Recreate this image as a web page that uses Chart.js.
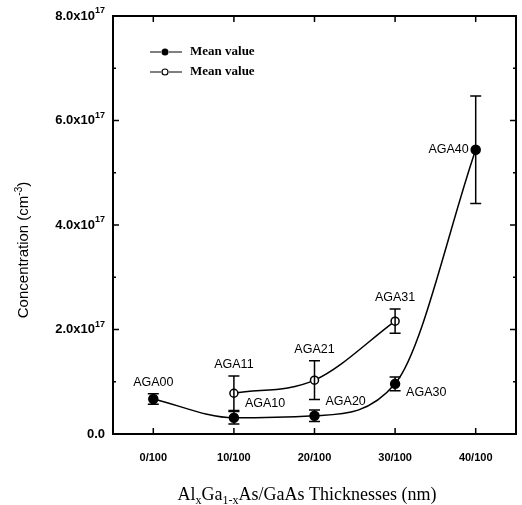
<!DOCTYPE html>
<html>
<head>
<meta charset="utf-8">
<script src="https://cdn.jsdelivr.net/npm/chart.js@4.4.0/dist/chart.umd.min.js"></script>
<style>
  html, body { margin: 0; padding: 0; background: #fff; }
  #wrap { width: 522px; height: 505px; }
</style>
</head>
<body>
<div id="wrap"><canvas id="chart" width="522" height="505"></canvas></div>
<script>
// Categories on the x axis
const categories = ['0/100', '10/100', '20/100', '30/100', '40/100'];

// Filled circles (values in cm^-3)
const filledNames = ['AGA00', 'AGA10', 'AGA20', 'AGA30', 'AGA40'];
const filledX = [0, 1, 2, 3, 4];
const filledVals = [0.67e17, 0.31e17, 0.35e17, 0.96e17, 5.44e17];
const filledErr = [0.10e17, 0.12e17, 0.11e17, 0.13e17, 1.03e17];

// Open circles
const openNames = ['AGA11', 'AGA21', 'AGA31'];
const openX = [1, 2, 3];
const openVals = [0.78e17, 1.03e17, 2.16e17];
const openErr = [0.33e17, 0.37e17, 0.23e17];

// Y tick labels (mantissa, exponent)
const yTickVals = [0, 2e17, 4e17, 6e17, 8e17];
const yTickText = [['0.0', ''], ['2.0x10', '17'], ['4.0x10', '17'], ['6.0x10', '17'], ['8.0x10', '17']];

const legendLabels = ['Mean value', 'Mean value'];

// where each sample label sits relative to its point
const filledLabelPos = ['above', 'right', 'right', 'rightBelow', 'left'];
const openLabelPos = ['above', 'above', 'above'];

const SANS = 'Arial, "Liberation Sans", sans-serif';
const SERIF = '"Times New Roman", "Liberation Serif", serif';

/**
 * Draw text with a raised / lowered part
 */
function drawRich(ctx, parts, x, y, align) {
	let total = 0;
	parts.forEach(p => { ctx.font = p.font; total += ctx.measureText(p.text).width; });
	let cx = align === 'right' ? x - total : (align === 'center' ? x - total / 2 : x);
	ctx.textAlign = 'left';
	parts.forEach(p => {
		ctx.font = p.font;
		ctx.fillText(p.text, cx, y + (p.dy || 0));
		cx += ctx.measureText(p.text).width;
	});
}

const framePlugin = {
	id: 'frame',
	afterDatasetsDraw(chart) {
		const ctx = chart.ctx;
		const xs = chart.scales.x;
		const ys = chart.scales.y;
		const a = chart.chartArea;

		ctx.save();
		ctx.strokeStyle = '#000';
		ctx.fillStyle = '#000';

		// Error bars
		ctx.lineWidth = 1.5;
		const bars = (xv, vals, errs) => {
			vals.forEach((v, i) => {
				const px = xs.getPixelForValue(xv[i]);
				const top = ys.getPixelForValue(v + errs[i]);
				const bot = ys.getPixelForValue(v - errs[i]);
				ctx.beginPath();
				ctx.moveTo(px, top); ctx.lineTo(px, bot);
				ctx.moveTo(px - 5.5, top); ctx.lineTo(px + 5.5, top);
				ctx.moveTo(px - 5.5, bot); ctx.lineTo(px + 5.5, bot);
				ctx.stroke();
			});
		};
		bars(filledX, filledVals, filledErr);
		bars(openX, openVals, openErr);

		// Frame
		ctx.lineWidth = 2;
		ctx.strokeRect(a.left, a.top, a.right - a.left, a.bottom - a.top);

		// Ticks (inward)
		ctx.lineWidth = 1.5;
		ctx.beginPath();
		categories.forEach((c, i) => {
			const px = xs.getPixelForValue(i);
			ctx.moveTo(px, a.bottom); ctx.lineTo(px, a.bottom - 6);
			ctx.moveTo(px, a.top); ctx.lineTo(px, a.top + 6);
		});
		for (let v = 1e17; v < 8e17; v += 1e17) {
			const py = ys.getPixelForValue(v);
			const major = Math.round(v / 1e17) % 2 === 0;
			const len = major ? 6 : 3;
			ctx.moveTo(a.left, py); ctx.lineTo(a.left + len, py);
			ctx.moveTo(a.right, py); ctx.lineTo(a.right - len, py);
		}
		ctx.stroke();

		// Y tick labels with superscripts
		ctx.textBaseline = 'middle';
		yTickVals.forEach((v, i) => {
			const py = ys.getPixelForValue(v);
			const t = yTickText[i];
			const parts = [{ text: t[0], font: 'bold 13px ' + SANS }];
			if (t[1]) parts.push({ text: t[1], font: 'bold 9px ' + SANS, dy: -5 });
			drawRich(ctx, parts, a.left - 8, py, 'right');
		});

		// Sample labels
		const labels = (names, xv, vals, errs, pos) => {
			names.forEach((n, i) => {
				const px = xs.getPixelForValue(xv[i]);
				const py = ys.getPixelForValue(vals[i]);
				const top = ys.getPixelForValue(vals[i] + errs[i]);
				ctx.font = '12.5px ' + SANS;
				if (pos[i] === 'above') {
					ctx.textAlign = 'center';
					ctx.textBaseline = 'bottom';
					ctx.fillText(n, px, top - 5);
				} else if (pos[i] === 'right') {
					ctx.textAlign = 'left';
					ctx.textBaseline = 'middle';
					ctx.fillText(n, px + 11, py - 14);
				} else if (pos[i] === 'rightBelow') {
					ctx.textAlign = 'left';
					ctx.textBaseline = 'middle';
					ctx.fillText(n, px + 11, py + 9);
				} else {
					ctx.textAlign = 'right';
					ctx.textBaseline = 'middle';
					ctx.fillText(n, px - 7, py);
				}
			});
		};
		labels(filledNames, filledX, filledVals, filledErr, filledLabelPos);
		labels(openNames, openX, openVals, openErr, openLabelPos);

		// Legend
		ctx.lineWidth = 1.2;
		legendLabels.forEach((t, i) => {
			const ly = 52 + i * 20;
			ctx.beginPath();
			ctx.moveTo(150, ly); ctx.lineTo(161, ly);
			ctx.moveTo(169, ly); ctx.lineTo(182, ly);
			ctx.stroke();
			ctx.beginPath();
			ctx.arc(165, ly, i === 0 ? 3.5 : 3, 0, Math.PI * 2);
			if (i === 0) { ctx.fill(); } else { ctx.fillStyle = '#fff'; ctx.fill(); ctx.fillStyle = '#000'; ctx.stroke(); }
			ctx.font = 'bold 13px ' + SERIF;
			ctx.textAlign = 'left';
			ctx.textBaseline = 'middle';
			ctx.fillText(t, 190, ly);
		});

		// Y axis title
		ctx.save();
		ctx.translate(24, 250);
		ctx.rotate(-Math.PI / 2);
		ctx.textBaseline = 'middle';
		drawRich(ctx, [
			{ text: 'Concentration (cm', font: '15px ' + SANS },
			{ text: '-3', font: '10px ' + SANS, dy: -5 },
			{ text: ')', font: '15px ' + SANS }
		], 0, 0, 'center');
		ctx.restore();

		// X axis title
		ctx.textBaseline = 'alphabetic';
		drawRich(ctx, [
			{ text: 'Al', font: '18px ' + SERIF },
			{ text: 'x', font: '12px ' + SERIF, dy: 4 },
			{ text: 'Ga', font: '18px ' + SERIF },
			{ text: '1-x', font: '12px ' + SERIF, dy: 4 },
			{ text: 'As/GaAs Thicknesses (nm)', font: '18px ' + SERIF }
		], 307, 500, 'center');

		ctx.restore();
	}
};

new Chart(document.getElementById('chart'), {
	type: 'scatter',
	data: {
		datasets: [{
			label: 'Mean value',
			data: filledX.map((x, i) => ({ x: x, y: filledVals[i] })),
			showLine: true,
			cubicInterpolationMode: 'monotone',
			borderColor: '#000',
			borderWidth: 1.5,
			pointRadius: 4.5,
			pointBackgroundColor: '#000',
			pointBorderColor: '#000'
		}, {
			label: 'Mean value',
			data: openX.map((x, i) => ({ x: x, y: openVals[i] })),
			showLine: true,
			cubicInterpolationMode: 'monotone',
			borderColor: '#000',
			borderWidth: 1.5,
			pointRadius: 4,
			pointBorderWidth: 1.5,
			pointBackgroundColor: '#fff',
			pointBorderColor: '#000'
		}]
	},
	options: {
		responsive: false,
		animation: false,
		layout: { padding: { top: 16, right: 4, left: 0, bottom: 0 } },
		plugins: {
			legend: { display: false },
			tooltip: { enabled: false }
		},
		scales: {
			x: {
				type: 'linear',
				min: -0.5,
				max: 4.5,
				afterBuildTicks: s => { s.ticks = categories.map((c, i) => ({ value: i })); },
				afterFit: s => { s.height = 71; },
				ticks: {
					autoSkip: false,
					maxRotation: 0,
					padding: 17,
					color: '#000',
					font: { family: SANS, size: 11, weight: 'bold' },
					callback: v => categories[v]
				},
				grid: { display: false, drawTicks: false },
				border: { display: false }
			},
			y: {
				min: 0,
				max: 8e17,
				afterFit: s => { s.width = 113; },
				ticks: { display: false },
				grid: { display: false, drawTicks: false },
				border: { display: false }
			}
		}
	},
	plugins: [framePlugin]
});
</script>
</body>
</html>
